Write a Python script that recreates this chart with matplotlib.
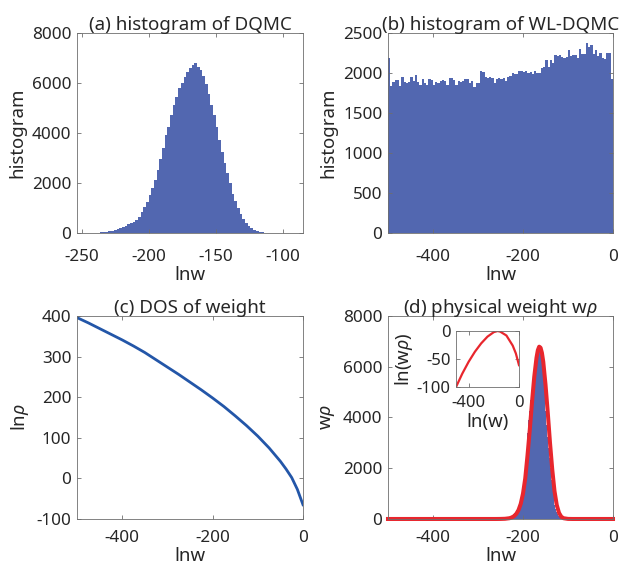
import numpy as np
import matplotlib
matplotlib.use("Agg")
import matplotlib.pyplot as plt

# ============== CONFIG ==============
OUT_FILE   = "out.png"
BLUE_BAR   = "#5267B0"
BLUE_LINE  = "#2356A8"
RED        = "#E8262D"
TEXT_COL   = "#262626"
FRAME_COL  = "#6E6E6E"
FS_TICK    = 12.3
FS_TITLE   = 13.5
FS_LABEL   = 13.4
# ====================================

plt.rcParams["font.family"] = ["Noto Sans", "DejaVu Sans"]
plt.rcParams["mathtext.fontset"] = "custom"
plt.rcParams["mathtext.rm"] = "Noto Sans"
plt.rcParams["mathtext.it"] = "Noto Sans:italic"
plt.rcParams["axes.unicode_minus"] = False

# (a) histogram of DQMC: bins of width 2 from -252
HIST_A_START = -252
HIST_A_WIDTH = 2
HIST_A_COUNTS = [
    0, 0, 2, 3, 5, 8, 12, 18, 25, 35,
    50, 70, 95, 125, 160, 200, 245, 290, 340, 390,
    420, 520, 650, 830, 1030, 1250, 1500, 1790, 2120, 2500,
    2950, 3400, 3900, 4250, 4700, 5100, 5450, 5780, 6000, 6230,
    6420, 6600, 6720, 6780, 6650, 6530, 6260, 5950, 5550, 5100,
    4700, 4250, 3700, 3250, 2800, 2400, 2000, 1550, 1280, 1000,
    760, 540, 400, 270, 190, 130, 85, 50, 30, 15,
    8, 5, 3, 2, 1, 0, 0, 0, 0, 0,
    0, 0,
]

# (b) histogram of WL-DQMC: 100 bins of width 5 on [-500, 0]
HIST_B_START = -500
HIST_B_WIDTH = 5
HIST_B_COUNTS = [
    2190, 1840, 1890, 1910, 1915, 1840, 1955, 1890, 1880, 1890,
    1955, 1905, 1975, 1890, 1850, 1920, 1870, 1850, 1930, 1910,
    1850, 1890, 1880, 1900, 1915, 1900, 1850, 1935, 1935, 1910,
    1850, 1905, 1890, 1900, 1930, 1920, 1880, 1900, 1830, 1880,
    1870, 2030, 2010, 1950, 1940, 1945, 1935, 1880, 1920, 1935,
    1925, 1940, 1900, 1950, 1960, 2000, 1985, 1990, 2025, 2020,
    2015, 2020, 2005, 2010, 1985, 2025, 2000, 1995, 2060, 2075,
    2160, 2070, 2160, 2120, 2230, 2215, 2230, 2205, 2190, 2200,
    2290, 2210, 2220, 2230, 2190, 2300, 2240, 2235, 2380, 2330,
    2350, 2240, 2290, 2210, 2245, 2190, 2180, 2250, 2255, 1920,
]

# (c) DOS of weight
LNW_C = [-500, -475, -450, -425, -400, -375, -350, -325, -300, -275, -250,
         -225, -200, -175, -150, -125, -100, -75, -50, -37.5, -25, -12.5, 0]
LNRHO_C = [396, 383, 369, 355, 341, 326, 310, 292, 274, 256, 237,
           218, 198, 177, 154, 130, 104, 75, 42, 23, 2, -27, -65]

# (d) physical weight w*rho (red curve)
LNW_D = [-500, -260, -250, -240, -230, -225, -220, -215, -210, -205, -200,
         -195, -190, -185, -180, -175, -170, -167, -164, -161, -158, -155,
         -150, -145, -140, -135, -130, -125, -120, -115, -110, -100, -90, 0]
WRHO_D = [0, 0, 2, 8, 30, 60, 110, 200, 350, 600, 1000,
          1600, 2500, 3500, 4600, 5600, 6350, 6650, 6790, 6750, 6550, 6200,
          5300, 4200, 3000, 1950, 1100, 550, 240, 90, 30, 3, 0, 0]

# inset: ln(w*rho)
LNW_INS   = [-500, -450, -400, -350, -300, -250, -200, -170, -150, -100, -50, -25, 0]
LNWRHO_IN = [-100, -76, -55, -37, -22, -10, -2, 0, -1, -8, -26, -40, -61]


def style_axes(ax, fs=FS_TICK, xpad=8):
    for sp in ax.spines.values():
        sp.set_color(FRAME_COL)
        sp.set_linewidth(0.6)
    ax.tick_params(direction="in", top=True, right=True, length=3, width=0.6,
                   color=FRAME_COL, labelcolor=TEXT_COL, labelsize=fs, pad=4)
    ax.tick_params(axis="x", pad=xpad)


def labels(ax, title, xl, yl):
    ax.set_title(title, fontsize=FS_TITLE, color=TEXT_COL, pad=2)
    ax.set_xlabel(xl, fontsize=FS_LABEL, color=TEXT_COL, labelpad=1)
    ax.set_ylabel(yl, fontsize=FS_LABEL, color=TEXT_COL, labelpad=4)


def main():
    fig = plt.figure(figsize=(6.2, 5.72), dpi=100)

    ax_a = fig.add_axes([0.1242, 0.5927, 0.3645, 0.3497])
    ax_b = fig.add_axes([0.6258, 0.5927, 0.3629, 0.3497])
    ax_c = fig.add_axes([0.1242, 0.0927, 0.3645, 0.3549])
    ax_d = fig.add_axes([0.6258, 0.0927, 0.3629, 0.3549])

    # (a)
    edges_a = HIST_A_START + HIST_A_WIDTH * np.arange(len(HIST_A_COUNTS) + 1)
    ax_a.stairs(HIST_A_COUNTS, edges_a, fill=True, color=BLUE_BAR, lw=0)
    ax_a.set_xlim(-253.5, -84.8)
    ax_a.set_ylim(0, 8000)
    ax_a.set_xticks([-250, -200, -150, -100])
    ax_a.set_yticks([0, 2000, 4000, 6000, 8000])
    labels(ax_a, "(a) histogram of DQMC", "lnw", "histogram")
    style_axes(ax_a, xpad=11.5)

    # (b)
    edges_b = HIST_B_START + HIST_B_WIDTH * np.arange(len(HIST_B_COUNTS) + 1)
    ax_b.stairs(HIST_B_COUNTS, edges_b, fill=True, color=BLUE_BAR, lw=0)
    ax_b.set_xlim(-500, 0)
    ax_b.set_ylim(0, 2500)
    ax_b.set_xticks([-400, -200, 0])
    ax_b.set_yticks([0, 500, 1000, 1500, 2000, 2500])
    labels(ax_b, "(b) histogram of WL-DQMC", "lnw", "histogram")
    style_axes(ax_b, xpad=11.5)

    # (c)
    ax_c.plot(LNW_C, LNRHO_C, color=BLUE_LINE, lw=2.0)
    ax_c.set_xlim(-500, 0)
    ax_c.set_ylim(-100, 400)
    ax_c.set_xticks([-400, -200, 0])
    ax_c.set_yticks([-100, 0, 100, 200, 300, 400])
    labels(ax_c, "(c) DOS of weight", "lnw", r"ln$\rho$")
    style_axes(ax_c)

    # (d)
    ax_d.stairs(HIST_A_COUNTS, edges_a, fill=True, color=BLUE_BAR, lw=0)
    ax_d.plot(LNW_D, WRHO_D, color=RED, lw=2.9, clip_on=False, zorder=2,
              solid_joinstyle="round")
    ax_d.set_xlim(-500, 0)
    ax_d.set_ylim(0, 8000)
    ax_d.set_xticks([-400, -200, 0])
    ax_d.set_yticks([0, 2000, 4000, 6000, 8000])
    labels(ax_d, r"(d) physical weight w$\rho$", "lnw", r"w$\rho$")
    style_axes(ax_d)

    # inset
    ax_i = fig.add_axes([0.7355, 0.3234, 0.1016, 0.0979])
    ax_i.plot(LNW_INS, LNWRHO_IN, color=RED, lw=1.6)
    ax_i.set_xlim(-500, 0)
    ax_i.set_ylim(-100, 0)
    ax_i.set_xticks([-400, 0])
    ax_i.set_yticks([-100, -50, 0])
    ax_i.set_xlabel("ln(w)", fontsize=13.4, color=TEXT_COL, labelpad=1)
    ax_i.set_ylabel(r"ln(w$\rho$)", fontsize=13.4, color=TEXT_COL, labelpad=1)
    style_axes(ax_i, fs=12, xpad=6)

    fig.savefig(OUT_FILE, dpi=100)
    plt.close(fig)


if __name__ == "__main__":
    main()
